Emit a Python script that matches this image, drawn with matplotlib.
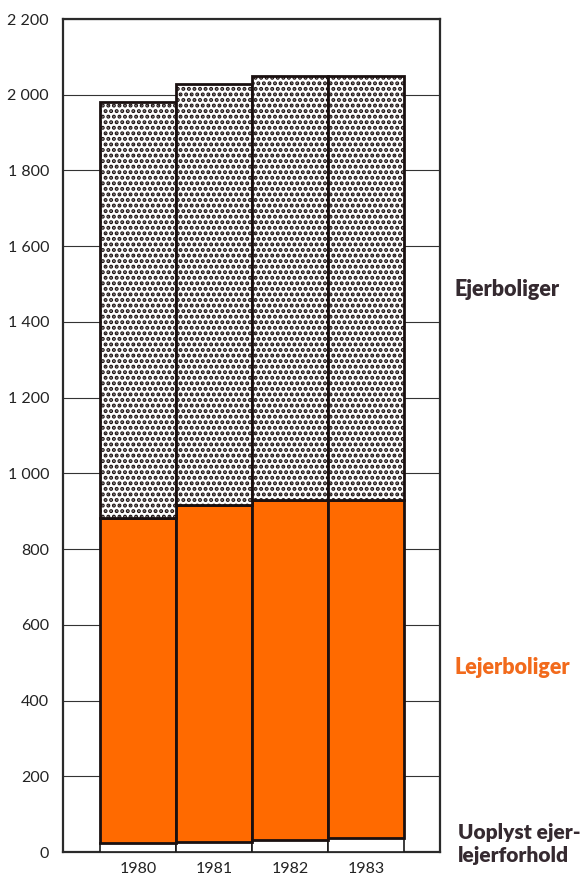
import matplotlib
matplotlib.use("Agg")
import matplotlib.pyplot as plt
import numpy as np

plt.rcParams['font.family'] = ['Lato', 'DejaVu Sans']
plt.rcParams['hatch.linewidth'] = 2.0
plt.rcParams['hatch.color'] = '#3a3236'

years = ['1980', '1981', '1982', '1983']
uoplyst = [24, 26, 32, 37]
lejer = [858, 891, 898, 893]
ejer = [1099, 1111, 1120, 1120]
yticks = [0, 200, 400, 600, 800, 1000, 1200, 1400, 1600, 1800, 2000, 2200]

fig = plt.figure(figsize=(5.87, 8.8), dpi=100)
ax = fig.add_axes([0.1073, 0.0318, 0.6423, 0.9466])

x = np.arange(len(years))
u = np.array(uoplyst)
l = np.array(lejer)
e = np.array(ejer)

ax.bar(x, u, width=1, color='white', edgecolor='#1a1a1a', linewidth=1.2, zorder=3)
ax.bar(x, l, bottom=u, width=1, color='#ff6a00', edgecolor='#1a1010', linewidth=2, zorder=3)
ax.bar(x, e, bottom=u + l, width=1, color='white', edgecolor='#1a1010', linewidth=2,
       hatch='...', zorder=3)

ax.set_xlim(-0.99, 3.97)
ax.set_ylim(0, 2200)
ax.set_yticks(yticks)
ax.set_yticklabels([f"{v:,}".replace(",", " ") for v in yticks])
ax.set_xticks(x)
ax.set_xticklabels(years)
ax.tick_params(axis='both', length=0, labelsize=11.5, colors='#222222')
ax.tick_params(axis='y', pad=10)
ax.tick_params(axis='x', pad=7)
ax.grid(axis='y', color='#333333', linewidth=0.8, zorder=1)
for s in ax.spines.values():
    s.set_linewidth(1.6)
    s.set_color('#2a2a2a')

fig.text(455 / 587, 1 - 289 / 880, 'Ejerboliger', fontsize=15.5, fontweight='heavy',
         color='#352a30', va='center', ha='left')
fig.text(455 / 587, 1 - 668 / 880, 'Lejerboliger', fontsize=15.5, fontweight='heavy',
         color='#f26a1b', va='center', ha='left')
fig.text(458 / 587, 1 - 844 / 880, 'Uoplyst ejer-\nlejerforhold', fontsize=15,
         fontweight='heavy', color='#352a30', va='center', ha='left', linespacing=1.2)

fig.savefig('out.png', dpi=100)
